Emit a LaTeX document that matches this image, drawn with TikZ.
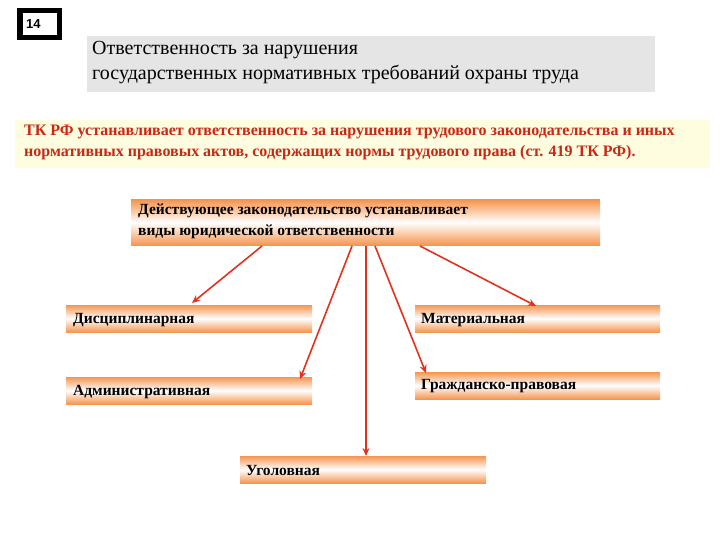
\documentclass[tikz,border=0pt]{standalone}
\usepackage{fontspec}
\setmainfont{Liberation Serif}
\setsansfont{Liberation Sans}
\usetikzlibrary{arrows.meta}
\definecolor{org}{RGB}{245,150,80}
\definecolor{arr}{RGB}{225,50,30}
\definecolor{redtxt}{RGB}{200,40,20}
\tikzset{
 obox/.style={top color=org,bottom color=org,middle color=white,draw=none},
 otxt/.style={anchor=west,font=\fontsize{15.5}{17}\selectfont\bfseries,inner sep=0pt},
 arw/.style={draw=arr,line width=1.6pt,-{Stealth[length=8pt,width=7pt]}}
}
\begin{document}
\begin{tikzpicture}[x=1pt,y=-1pt]
\useasboundingbox (0,0) rectangle (720,540);
\fill[black] (17,8) rectangle (62,40);
\fill[white] (23,13) rectangle (57,35);
\node[font=\sffamily\bfseries\fontsize{13}{15}\selectfont,anchor=west,inner sep=0pt] (num) at (26,24) {14};
\fill[black!10] (87,36) rectangle (655,92);
\node[anchor=north west,align=left,font=\fontsize{20}{25}\selectfont,inner sep=0pt] (title) at (92,41) {Ответственность за нарушения\\государственных нормативных требований охраны труда};
\fill[yellow!12] (15,120) rectangle (710,168);
\node[anchor=north west,align=left,font=\fontsize{16}{21}\selectfont\bfseries,text=redtxt,inner sep=0pt] (tk) at (24,125) {ТК РФ устанавливает ответственность за нарушения трудового законодательства и иных\\нормативных правовых актов, содержащих нормы трудового права (ст. 419 ТК РФ).};
\shade[obox] (131,200) rectangle (600,245);
\node[anchor=north west,align=left,font=\fontsize{15.5}{21}\selectfont\bfseries,inner sep=0pt] (main) at (138,204) {Действующее законодательство устанавливает\\виды юридической ответственности};
\shade[obox] (66,305) rectangle (312,332);
\node[otxt] (dis) at (73,320) {Дисциплинарная};
\shade[obox] (415,305) rectangle (660,332);
\node[otxt] (mat) at (421,320) {Материальная};
\shade[obox] (66,377) rectangle (312,404);
\node[otxt] (adm) at (73,392) {Административная};
\shade[obox] (415,372) rectangle (660,399);
\node[otxt] (gr) at (421,386) {Гражданско-правовая};
\shade[obox] (240,456) rectangle (486,483);
\node[otxt] (ug) at (246,470) {Уголовная};
\coordinate (s1) at (262,246); \coordinate (e1) at (192,303);
\coordinate (s2) at (352,246); \coordinate (e2) at (300,379);
\coordinate (s3) at (366,246); \coordinate (e3) at (366,456);
\coordinate (s4) at (375,246); \coordinate (e4) at (426,373);
\coordinate (s5) at (420,246); \coordinate (e5) at (536,306);
\foreach \i in {1,...,5} \draw[arw] (s\i) -- (e\i);
\end{tikzpicture}
\end{document}
